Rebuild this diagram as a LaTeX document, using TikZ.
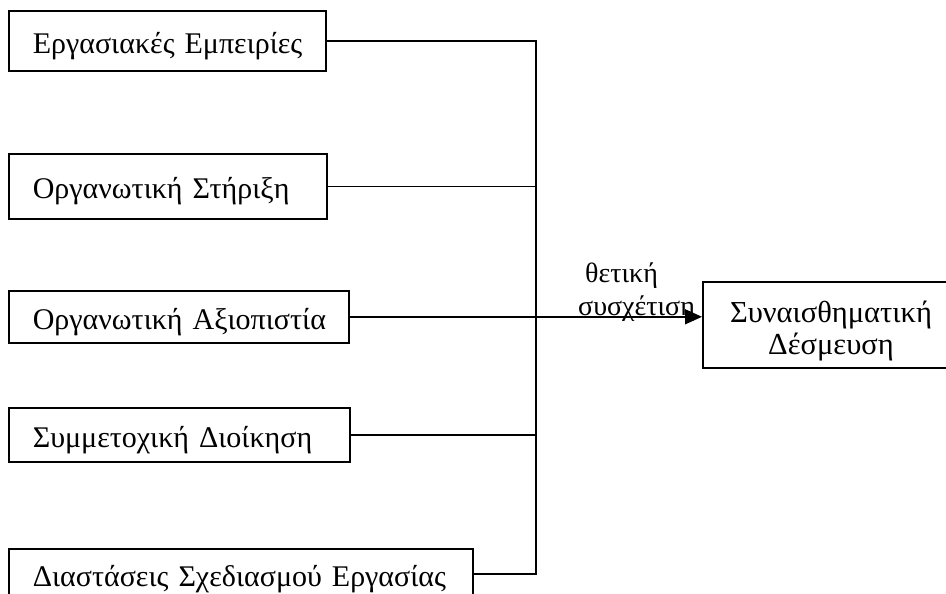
\documentclass[tikz,border=0pt]{standalone}
\usepackage{fontspec}
\setmainfont{Liberation Serif}
\usetikzlibrary{arrows.meta}
\begin{document}
\begin{tikzpicture}[x=1pt,y=-1pt,
  link/.style={line width=1.6pt},
  factor/.style={draw,line width=1.6pt,anchor=north west,inner xsep=24pt,inner ysep=0pt,
    text height=25pt,text depth=0pt,align=left,font=\fontsize{30}{36}\selectfont},
  outcome/.style={draw,line width=1.6pt,fill=white,anchor=north west,inner sep=0pt},
  outtext/.style={align=center,inner sep=0pt,font=\fontsize{30.5}{32}\selectfont},
  note/.style={align=left,inner sep=0pt,font=\fontsize{28}{33}\selectfont}]
  \useasboundingbox (0,0) rectangle (946,594);
  \clip (0,0) rectangle (946,594);

  % factors on the left
  \node[factor,text width=269pt,minimum height=60pt] (b1) at (8,10) {\mbox{Εργασιακές Εμπειρίες}};
  \node[factor,text width=270pt,minimum height=65pt] (b2) at (8,153) {\mbox{Οργανωτική Στήριξη}};
  \node[factor,text width=292pt,minimum height=52pt] (b3) at (8,290) {\mbox{Οργανωτική Αξιοπιστία}};
  \node[factor,text width=293pt,minimum height=54pt] (b4) at (8,407) {\mbox{Συμμετοχική Διοίκηση}};
  \node[factor,text width=416pt,minimum height=50pt] (b5) at (8,548) {\mbox{Διαστάσεις Σχεδιασμού Εργασίας}};

  % vertical collector line
  \coordinate (trunk) at (536,0);

  % label on the arrow
  \node[note,anchor=base west] (lbl) at (578,315) {\hspace*{7pt}θετική\\συσχέτιση};

  \draw[link] (b1.east) -- (b1.east -| trunk) -- (b5.east -| trunk) -- (b5.east);
  \draw[link] (b2.east) -- (b2.east -| trunk);
  \draw[link] (b4.east) -- (b4.east -| trunk);

  % outcome box, running off the right edge
  \node[outcome,minimum width=258pt,minimum height=86pt] (out) at (702,281) {};
  \node[outtext,anchor=base] (outlbl) at (831,354) {Συναισθηματική\\Δέσμευση};

  \draw[link,-{Triangle[length=17pt,width=15pt]}] (b3.east) -- (b3.east -| out.west);
\end{tikzpicture}
\end{document}
